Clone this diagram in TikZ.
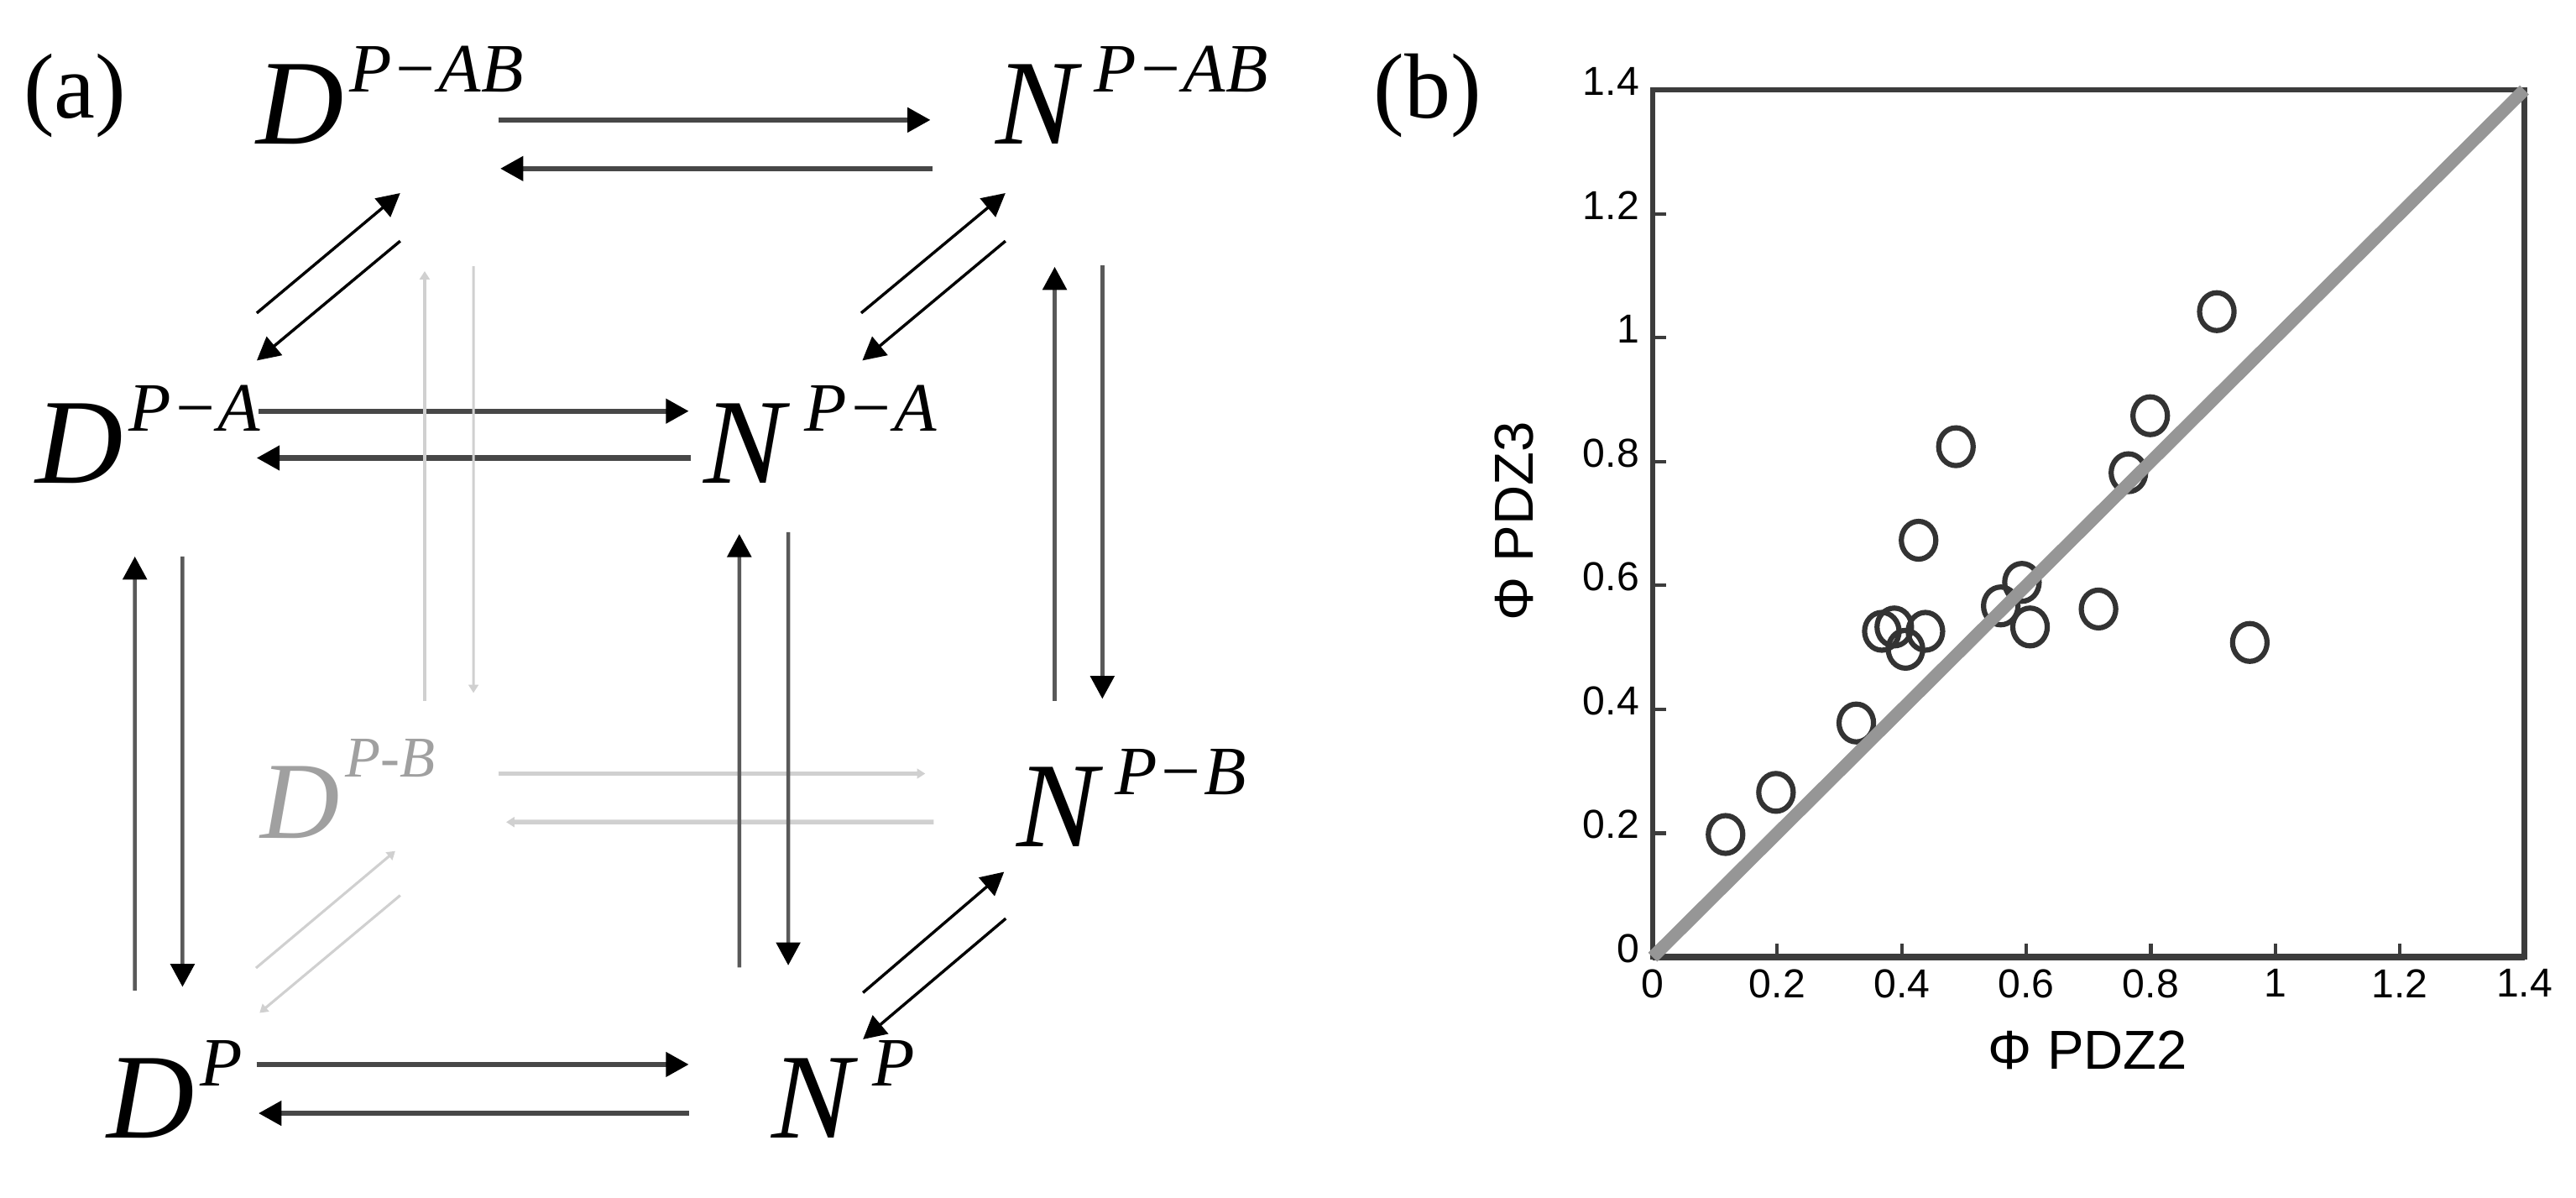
\documentclass[tikz,border=0pt]{standalone}
\usepackage{fontspec}
\setmainfont{Liberation Serif}
\setsansfont{Liberation Sans}
\usetikzlibrary{arrows.meta}
\definecolor{axisgray}{RGB}{60,60,60}
\definecolor{diaggray}{RGB}{150,150,150}
\definecolor{ghost}{RGB}{208,208,208}
\definecolor{ghosttext}{RGB}{160,160,160}
\newcommand{\cubestate}[3][1pt]{{\fontsize{21}{21}\selectfont\itshape #2}\kern#1\raisebox{9pt}{\fontsize{12}{12}\selectfont\itshape #3}}
\tikzset{
    statelbl/.style={inner sep=0pt, outer sep=0pt, anchor=base west},
    hrate/.style={-{Triangle[length=1.4mm,width=1.45mm,color=black]}, line width=0.9pt, draw=black!72},
    vrate/.style={-{Triangle[length=1.4mm,width=1.45mm,color=black]}, line width=0.65pt, draw=black!65},
    drate/.style={-{Triangle[length=1.4mm,width=1.45mm]}, line width=0.5pt, draw=black},
    ghostrate/.style={-{Triangle[length=0.5mm,width=0.6mm]}, line width=0.8pt, draw=ghost},
    ghostthin/.style={-{Triangle[length=0.5mm,width=0.6mm]}, line width=0.45pt, draw=ghost},
    ticklbl/.style={font=\sffamily\fontsize{7}{7}\selectfont, inner sep=0pt}
}
\begin{document}
\begin{tikzpicture}[x=0.1mm, y=-0.1mm]
    \useasboundingbox (0,0) rectangle (1568,729);

    % Panel tags
    \node[font=\fontsize{16}{16}\selectfont] (tagA) at (45.6,58) {(a)};
    \node[font=\fontsize{16}{16}\selectfont] (tagB) at (869,58) {(b)};

    % Cube states
    \node[statelbl] (DAB) at (156,87.8) {\cubestate{D}{P−AB}};
    \node[statelbl] (NAB) at (606.3,87.8) {\cubestate[3pt]{N}{P−AB}};
    \node[statelbl] (DA) at (21.7,294) {\cubestate{D}{P−A}};
    \node[statelbl] (NA) at (428.4,294) {\cubestate[3.5pt]{N}{P−A}};
    \node[statelbl, text=ghosttext] (DB) at (158.5,510)
        {{\fontsize{19}{19}\selectfont\itshape D}\kern1pt\raisebox{10.5pt}{\fontsize{10}{10}\selectfont\itshape P-B}};
    \node[statelbl] (NB) at (618.8,515.2) {\cubestate[3pt]{N}{P−B}};
    \node[statelbl] (DP) at (65,692.3) {\cubestate{D}{P}};
    \node[statelbl] (NP) at (469.8,692.3) {\cubestate[3.5pt]{N}{P}};

    % Horizontal rates
    \draw[hrate] ([shift={(147.5,-14.8)}]DAB.base west) -- ([shift={(-39.9,-14.8)}]NAB.base west);
    \draw[hrate] ([shift={(-38.7,14.8)}]NAB.base west) -- ([shift={(148.5,14.8)}]DAB.base west);
    \draw[hrate] ([shift={(135.7,-43.8)}]DA.base west) -- ([shift={(-9.1,-43.8)}]NA.base west);
    \draw[hrate] ([shift={(-8,-15.3)}]NA.base west) -- ([shift={(134.5,-15.3)}]DA.base west);
    \draw[hrate] ([shift={(91.2,-44.5)}]DP.base west) -- ([shift={(-50.5,-44.5)}]NP.base west);
    \draw[hrate] ([shift={(-50.5,-14.8)}]NP.base west) -- ([shift={(92.3,-14.8)}]DP.base west);
    \draw[ghostrate] ([shift={(144.9,-39.2)}]DB.base west) -- ([shift={(-55.6,-44.4)}]NB.base west);
    \draw[ghostrate] ([shift={(-50.5,-14.9)}]NB.base west) -- ([shift={(149.6,-9.7)}]DB.base west);

    % Vertical rates
    \draw[vrate] ([shift={(17.1,-89.5)}]DP.base west) -- ([shift={(60.4,44.7)}]DA.base west);
    \draw[vrate] ([shift={(89.4,44.7)}]DA.base west) -- ([shift={(46.1,-91.7)}]DP.base west);
    \draw[vrate] ([shift={(-19.8,-103.6)}]NP.base west) -- ([shift={(21.6,31)}]NA.base west);
    \draw[vrate] ([shift={(51.4,29.9)}]NA.base west) -- ([shift={(10,-104.8)}]NP.base west);
    \draw[vrate] ([shift={(23.2,-88.8)}]NB.base west) -- ([shift={(35.7,74.6)}]NAB.base west);
    \draw[vrate] ([shift={(64.7,73.7)}]NAB.base west) -- ([shift={(52.2,-89.9)}]NB.base west);
    \draw[ghostthin] ([shift={(100,-83.6)}]DB.base west) -- ([shift={(102.5,77.2)}]DAB.base west);
    \draw[ghostthin] ([shift={(132.2,74.2)}]DAB.base west) -- ([shift={(129.7,-88.3)}]DB.base west);

    % Diagonal rates
    \draw[drate] ([shift={(134.6,-103.5)}]DA.base west) -- ([shift={(87.6,29.7)}]DAB.base west);
    \draw[drate] ([shift={(87.6,58.9)}]DAB.base west) -- ([shift={(134.6,-74.6)}]DA.base west);
    \draw[drate] ([shift={(95.8,-103.5)}]NA.base west) -- ([shift={(5.7,29.7)}]NAB.base west);
    \draw[drate] ([shift={(5.7,58.9)}]NAB.base west) -- ([shift={(96.5,-74.6)}]NA.base west);
    \draw[ghostthin] ([shift={(90.8,-103.2)}]DP.base west) -- ([shift={(82.1,7.9)}]DB.base west);
    \draw[ghostthin] ([shift={(85.1,34.9)}]DB.base west) -- ([shift={(93,-75.9)}]DP.base west);
    \draw[drate] ([shift={(55.5,-88.2)}]NP.base west) -- ([shift={(-7.6,15.4)}]NB.base west);
    \draw[drate] ([shift={(-6.6,43.8)}]NB.base west) -- ([shift={(55.5,-59.8)}]NP.base west);

    % Scatter plot
    \begin{scope}[shift={(100.6mm,-58.25mm)}, x=37.9mm, y=37.7mm]
        \draw[axisgray, line width=0.9pt] (0,0) rectangle (1.4,1.4);
        \draw[axisgray, line width=1.2pt] (0,0) -- (1.4,0);
        \foreach \v in {0.2,0.4,0.6,0.8,1,1.2} {
            \draw[axisgray, line width=0.6pt] (\v,0) -- (\v,0.022);
            \draw[axisgray, line width=0.6pt] (0,\v) -- (0.022,\v);
        }
        \foreach \v/\t [count=\i] in {0/0,0.2/0.2,0.4/0.4,0.6/0.6,0.8/0.8,1/1,1.2/1.2,1.4/1.4} {
            \node[ticklbl, anchor=east] (ytick\i) at (-0.02,\v+0.014) {\t};
            \node[ticklbl, anchor=north] (xtick\i) at (\v,-0.018) {\t};
        }
        % data points
        \foreach \px/\py in {0.117/0.198,0.198/0.266,0.327/0.378,0.368/0.526,0.388/0.533,
                0.406/0.497,0.438/0.526,0.427/0.673,0.487/0.824,0.559/0.567,0.593/0.605,
                0.606/0.533,0.716/0.562,0.764/0.782,0.799/0.874,0.906/1.042,0.959/0.508}
            \draw[black!80, line width=0.9pt] (\px,\py) ellipse [x radius=1.05mm, y radius=1.15mm];
        % identity line
        \draw[diaggray, line width=2.2pt] (0,0) -- (1.4,1.4);
        \node[font=\sffamily\fontsize{9.5}{9.5}\selectfont] (xlbl) at (0.699,-0.150) {Φ PDZ2};
        \node[font=\sffamily\fontsize{9.5}{9.5}\selectfont, rotate=90] (ylbl) at (-0.222,0.704) {Φ PDZ3};
    \end{scope}
\end{tikzpicture}
\end{document}
